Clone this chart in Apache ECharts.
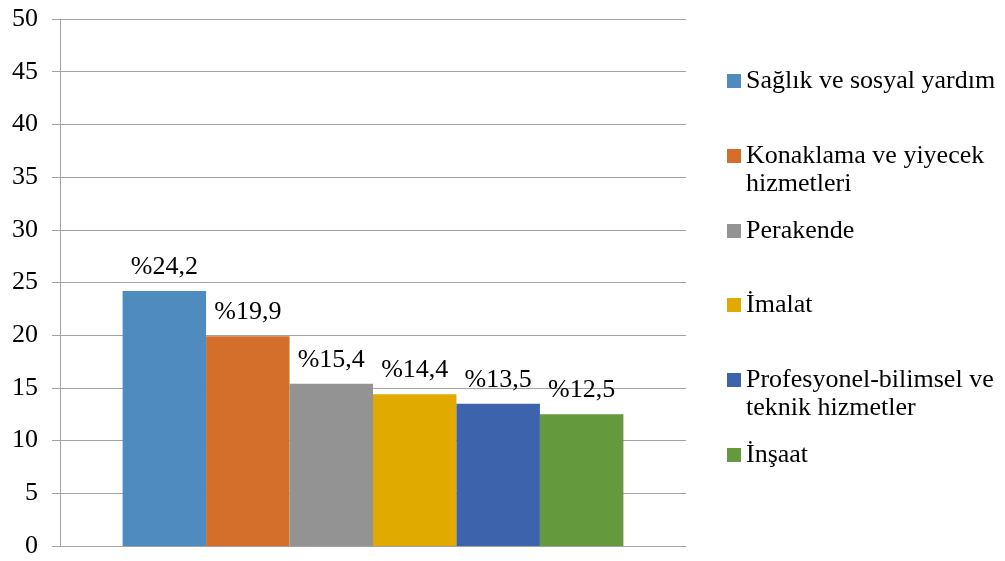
<!DOCTYPE html>
<html>
<head>
<meta charset="utf-8">
<script src="https://cdn.jsdelivr.net/npm/echarts@6/dist/echarts.min.js"></script>
<style>
  html, body { margin: 0; padding: 0; background: #fff; }
  #chart { width: 1005px; height: 561px; }
</style>
</head>
<body>
<div id="chart"></div>
<script>
// Sector names (legend text, line breaks as shown) and their shares in percent
const sectors = [
  'Sağlık ve sosyal yardım',
  'Konaklama ve yiyecek\nhizmetleri',
  'Perakende',
  'İmalat',
  'Profesyonel-bilimsel ve\nteknik hizmetler',
  'İnşaat'
];
const shares = [24.2, 19.9, 15.4, 14.4, 13.5, 12.5];
const colors = ['#4f8bbe', '#d46e2b', '#939393', '#e1aa00', '#3c63ac', '#64993d'];
const yTicks = { min: 0, max: 50, interval: 5 };

const FONT = '"Liberation Serif", "Times New Roman", serif';
const FONT_SIZE = 26;
const LINE_H = 28;
const GRID_GREY = '#a3a3a3';

// Legend: one entry per block, stacked at an even pitch down the right side.
// Two-line names get a leading blank line so the swatch lines up with the first line.
const LEGEND_FIRST_Y = 81;
const LEGEND_PITCH = 74.8;
const legends = sectors.map((name, i) => {
  const twoLine = name.indexOf('\n') >= 0;
  const lines = twoLine ? 3 : 1;
  const centerY = LEGEND_FIRST_Y + i * LEGEND_PITCH;
  return {
    orient: 'vertical',
    left: 722,
    top: Math.round(centerY - (lines * LINE_H) / 2 - 5),
    itemWidth: 14,
    itemHeight: 14,
    itemGap: 0,
    icon: 'rect',
    selectedMode: false,
    formatter: n => (n.indexOf('\n') >= 0 ? '\n' + n : n),
    textStyle: { fontFamily: FONT, fontSize: FONT_SIZE, color: '#000', lineHeight: LINE_H },
    data: [name]
  };
});

const chart = echarts.init(document.getElementById('chart'), null, { renderer: 'canvas' });

const series = sectors.map((name, i) => ({
  name: name,
  type: 'bar',
  data: [shares[i]],
  barGap: '0%',
  barCategoryGap: '20%',
  itemStyle: { color: colors[i] },
  label: {
    show: true,
    position: 'top',
    distance: 11,
    fontFamily: FONT,
    fontSize: FONT_SIZE,
    color: '#000',
    formatter: p => '%' + String(p.value).replace('.', ',')
  }
}));

chart.setOption({
  animation: false,
  backgroundColor: '#fff',
  grid: { left: 60, right: 319, top: 19, bottom: 15, containLabel: false },
  legend: legends,
  xAxis: {
    type: 'category',
    data: [''],
    axisLine: { show: true, lineStyle: { color: GRID_GREY, width: 1 } },
    axisTick: { show: false },
    axisLabel: { show: false }
  },
  yAxis: {
    type: 'value',
    min: yTicks.min,
    max: yTicks.max,
    interval: yTicks.interval,
    axisLine: { show: true, lineStyle: { color: GRID_GREY, width: 1 } },
    axisTick: { show: true, length: 8, lineStyle: { color: GRID_GREY } },
    axisLabel: { fontFamily: FONT, fontSize: FONT_SIZE, color: '#000', margin: 22 },
    splitLine: { show: true, lineStyle: { color: GRID_GREY, width: 1 } }
  },
  series: series
});
</script>
</body>
</html>
